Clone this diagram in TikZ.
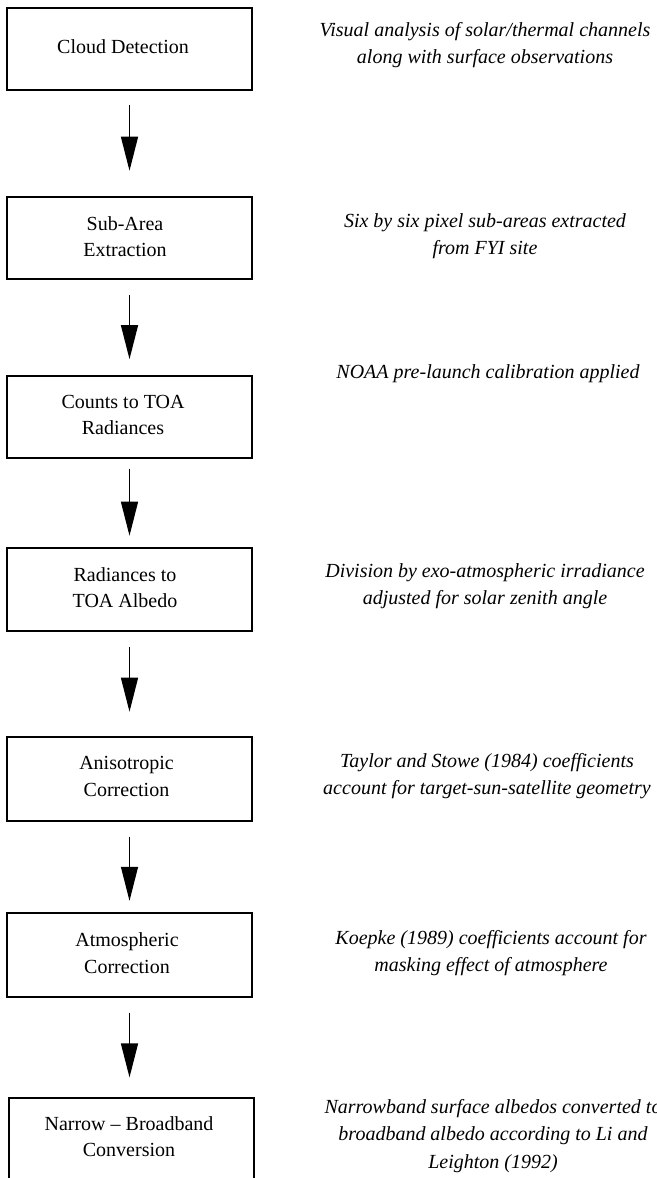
\documentclass[tikz,border=0pt]{standalone}
\usepackage{fontspec}
\setmainfont{Liberation Serif}
\usetikzlibrary{arrows.meta,calc}
\begin{document}
\begin{tikzpicture}[x=0.6pt,y=-0.6pt,
  box/.style={draw, line width=1.1pt, minimum width=147pt, inner sep=0pt},
  boxtext/.style={align=center, font=\fontsize{12pt}{16pt}\selectfont, inner sep=0pt},
  desc/.style={align=center, font=\fontsize{12pt}{16.3pt}\selectfont\itshape, inner sep=0pt},
  flow/.style={-{Triangle[length=20.4pt,width=10.2pt]}, line width=0.8pt}]
\clip (0,0) rectangle (657,1178);
\fill[white] (0,0) rectangle (657,1178);

% boxes
\node[box, minimum height=49.2pt] (b1) at (129.5,49) {};
\node[box, minimum height=49.2pt] (b2) at (129.5,238.3) {};
\node[box, minimum height=49.0pt] (b3) at (129.5,416.9) {};
\node[box, minimum height=50.0pt] (b4) at (129.5,589.3) {};
\node[box, minimum height=50.6pt] (b5) at (129.5,778.8) {};
\node[box, minimum height=50.4pt] (b6) at (129.5,954.7) {};
\node[box, minimum height=48.6pt] (b7) at (131.5,1138.5) {};

% box texts
\node[boxtext] (t1) at (123,47) {Cloud Detection};
\node[boxtext] (t2) at (125,236.5) {Sub-Area\\Extraction};
\node[boxtext] (t3) at (123,415) {Counts to TOA\\Radiances};
\node[boxtext] (t4) at (125,587.5) {Radiances to\\TOA Albedo};
\node[boxtext] (t5) at (126.5,776.5) {Anisotropic\\Correction};
\node[boxtext] (t6) at (127,953) {Atmospheric\\Correction};
\node[boxtext] (t7) at (129,1136.5) {Narrow -- Broadband\\Conversion};

% descriptions
\node[desc] (d1) at (485,45) {Visual analysis of solar/thermal channels\\along with surface observations};
\node[desc] (d2) at (485,236.5) {Six by six pixel sub-areas extracted\\from FYI site};
\node[desc] (d3) at (488,374) {NOAA pre-launch calibration applied};
\node[desc] (d4) at (485,586.5) {Division by exo-atmospheric irradiance\\adjusted for solar zenith angle};
\node[desc] (d5) at (487,776.5) {Taylor and Stowe (1984) coefficients\\account for target-sun-satellite geometry};
\node[desc] (d6) at (491,953) {Koepke (1989) coefficients account for\\masking effect of atmosphere};
\node[desc] (d7) at (493,1136) {Narrowband surface albedos converted to\\broadband albedo according to Li and\\Leighton (1992)};

% arrows
\draw[flow, shorten <=8.4pt, shorten >=15.4pt] (b1.south) -- (b2.north);
\draw[flow, shorten <=9pt, shorten >=9.6pt] (b2.south) -- (b3.north);
\draw[flow, shorten <=6pt, shorten >=6.6pt] (b3.south) -- (b4.north);
\draw[flow, shorten <=9pt, shorten >=14.4pt] (b4.south) -- (b5.north);
\draw[flow, shorten <=8.8pt, shorten >=6.6pt] (b5.south) -- (b6.north);
\draw[flow, shorten <=9pt, shorten >=11.8pt] (b6.south) -- (b6.south |- b7.north);
\end{tikzpicture}
\end{document}
